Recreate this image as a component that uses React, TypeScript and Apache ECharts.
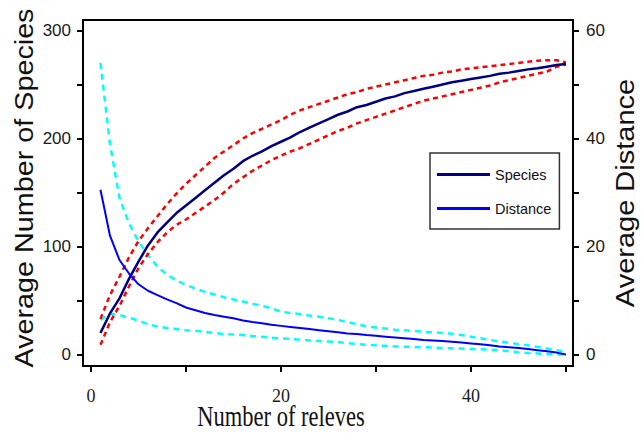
import React, { useEffect, useRef } from "react";
import * as echarts from "echarts";

const releves = [1, 2, 3, 4, 5, 6, 7, 8, 9, 10, 11, 12, 13, 14, 15, 16, 17, 18, 19, 20, 21, 22, 23, 24, 25, 26, 27, 28, 29, 30, 31, 32, 33, 34, 35, 36, 37, 38, 39, 40, 41, 42, 43, 44, 45, 46, 47, 48, 49, 50];

const speciesMean = [20, 38, 52, 70, 86, 101, 113, 122, 131, 138, 145, 152, 159, 166, 172, 179, 184, 188, 193, 197, 201, 206, 210, 214, 218, 222, 225, 229, 231, 234, 237, 239, 242, 244, 246, 248, 250, 252, 253.5, 255, 256.5, 258, 260, 261, 262.5, 264, 265, 266.5, 268, 269];
const speciesUpper = [33, 55, 72, 90, 105, 117, 128, 139, 149, 158, 166, 174, 182, 188, 194, 200, 205, 209, 213, 217, 222, 226, 229, 232, 235, 238, 241, 243, 246, 248, 250, 252, 254, 256, 258, 259, 261, 262, 264, 265, 266, 267, 268, 269, 270, 271, 272, 272.5, 272.5, 270.5];
const speciesLower = [9, 30, 45, 63, 80, 93, 104, 113, 120, 125, 131, 137, 143, 150, 158, 164, 170, 175, 180, 184, 188, 191, 195, 199, 203, 207, 210, 214, 217, 220, 223, 226, 229, 232, 235, 237, 239, 241, 243, 245, 247, 249, 252, 254, 256, 258, 260, 262, 266.5, 268.5];

const distanceMean = [30.5, 22, 17.5, 15, 13, 11.8, 11, 10.2, 9.5, 8.7, 8.2, 7.7, 7.3, 7.0, 6.7, 6.3, 6.0, 5.8, 5.5, 5.3, 5.1, 4.9, 4.7, 4.5, 4.3, 4.1, 3.9, 3.8, 3.6, 3.45, 3.3, 3.15, 3.0, 2.85, 2.7, 2.6, 2.5, 2.35, 2.2, 2.05, 1.9, 1.7, 1.5, 1.35, 1.2, 1.0, 0.8, 0.6, 0.35, 0];
const distanceUpper = [54, 39, 29, 24.3, 21, 18.4, 16.3, 14.8, 13.7, 12.9, 12.2, 11.6, 11.1, 10.6, 10.2, 9.8, 9.4, 9.0, 8.6, 7.9, 7.7, 7.5, 7.2, 7.0, 6.7, 6.4, 6.0, 5.6, 5.2, 5.0, 4.8, 4.6, 4.5, 4.35, 4.2, 4.1, 4.0, 3.85, 3.6, 3.3, 3.0, 2.7, 2.4, 2.2, 1.9, 1.7, 1.4, 1.1, 0.8, 0.4];
const distanceLower = [6.4, 7.6, 7.3, 6.8, 6.3, 5.6, 5.2, 4.9, 4.7, 4.5, 4.4, 4.2, 4.0, 3.8, 3.7, 3.6, 3.4, 3.3, 3.1, 3.0, 2.9, 2.75, 2.6, 2.5, 2.4, 2.3, 2.1, 1.95, 1.8, 1.7, 1.6, 1.5, 1.45, 1.4, 1.35, 1.3, 1.2, 1.15, 1.1, 1.0, 0.95, 0.9, 0.8, 0.6, 0.4, 0.3, 0.2, 0.1, 0, 0];

const leftTicks = [0, 50, 100, 150, 200, 250, 300];
const leftLabels = [0, 100, 200, 300];
const rightTicks = [0, 10, 20, 30, 40, 50, 60];
const rightLabels = [0, 20, 40, 60];
const xTicks = [0, 10, 20, 30, 40, 50];
const xLabels = [0, 20, 40];

const pair = (ys: number[]) => releves.map((x, i) => [x, ys[i]]);

const SANS = "'Liberation Sans', Arial, sans-serif";
const SERIF = "'Liberation Serif', 'Times New Roman', serif";

export default function App() {
  const ref = useRef<HTMLDivElement>(null);
  useEffect(() => {
    if (!ref.current) return;
    const chart = echarts.init(ref.current, undefined, { renderer: "svg" });
    const axisLine = { show: true, onZero: false, lineStyle: { color: "#000", width: 2 } };
    const tickStyle = { color: "#000", width: 2 };
    chart.setOption({
      animation: false,
      backgroundColor: "#fff",
      grid: {
        left: 83,
        right: 71,
        top: 20,
        bottom: 69,
        show: true,
        borderColor: "#000",
        borderWidth: 2,
        containLabel: false,
      },
      legend: {
        data: ["Species", "Distance"],
        orient: "vertical",
        left: 430,
        top: 153,
        padding: [14, 8, 13, 7],
        itemGap: 19,
        itemWidth: 53,
        itemHeight: 3,
        icon: "rect",
        borderColor: "#333",
        borderWidth: 1.5,
        backgroundColor: "#fff",
        textStyle: { fontFamily: SANS, fontSize: 14.5, color: "#111" },
      },
      xAxis: {
        type: "value",
        min: -0.84,
        max: 50.74,
        splitLine: { show: false },
        axisLine,
        axisTick: { show: true, length: 6, lineStyle: tickStyle, customValues: xTicks },
        axisLabel: { customValues: xLabels, margin: 21, fontFamily: SERIF, fontSize: 18, color: "#1a1a1a" },
      },
      yAxis: [
        {
          type: "value",
          position: "left",
          min: -10.65,
          max: 309.72,
          splitLine: { show: false },
          axisLine,
          axisTick: { show: true, length: 6, lineStyle: tickStyle, customValues: leftTicks },
          axisLabel: { customValues: leftLabels, margin: 12, fontFamily: SANS, fontSize: 17, color: "#1a1a1a" },
        },
        {
          type: "value",
          position: "right",
          min: -2.13,
          max: 61.94,
          splitLine: { show: false },
          axisLine,
          axisTick: { show: true, length: 6, lineStyle: tickStyle, customValues: rightTicks },
          axisLabel: { customValues: rightLabels, margin: 13, fontFamily: SANS, fontSize: 17, color: "#1a1a1a" },
        },
      ],
      series: [
        {
          name: "Distance upper",
          type: "line",
          yAxisIndex: 1,
          data: pair(distanceUpper),
          symbol: "none",
          lineStyle: { color: "#00ffff", width: 2.5, type: [6, 5], cap: "butt" },
        },
        {
          name: "Distance lower",
          type: "line",
          yAxisIndex: 1,
          data: pair(distanceLower),
          symbol: "none",
          lineStyle: { color: "#00ffff", width: 2.5, type: [6, 5], cap: "butt" },
        },
        {
          name: "Species upper",
          type: "line",
          yAxisIndex: 0,
          data: pair(speciesUpper),
          symbol: "none",
          lineStyle: { color: "#ff0000", width: 2.5, type: [5, 4], cap: "butt" },
        },
        {
          name: "Species lower",
          type: "line",
          yAxisIndex: 0,
          data: pair(speciesLower),
          symbol: "none",
          lineStyle: { color: "#ff0000", width: 2.5, type: [5, 4], cap: "butt" },
        },
        {
          name: "Species",
          type: "line",
          yAxisIndex: 0,
          data: pair(speciesMean),
          symbol: "none",
          color: "#000080",
          lineStyle: { color: "#000080", width: 2.5 },
        },
        {
          name: "Distance",
          type: "line",
          yAxisIndex: 1,
          data: pair(distanceMean),
          symbol: "none",
          color: "#0000ff",
          lineStyle: { color: "#0000ff", width: 2 },
        },
      ],
      graphic: [
        {
          type: "text",
          x: 25,
          y: 188,
          rotation: Math.PI / 2,
          scaleX: 1.15,
          style: {
            text: "Average Number of Species",
            fontFamily: SANS,
            fontSize: 25,
            fill: "#111",
            textAlign: "center",
            textVerticalAlign: "middle",
          },
        },
        {
          type: "text",
          x: 625,
          y: 193,
          rotation: Math.PI / 2,
          scaleX: 1.16,
          style: {
            text: "Average Distance",
            fontFamily: SANS,
            fontSize: 25,
            fill: "#111",
            textAlign: "center",
            textVerticalAlign: "middle",
          },
        },
        {
          type: "text",
          x: 281,
          y: 417,
          scaleY: 1.27,
          style: {
            text: "Number of releves",
            fontFamily: SERIF,
            fontSize: 22.5,
            fill: "#111",
            textAlign: "center",
            textVerticalAlign: "middle",
          },
        },
      ],
    });
    return () => chart.dispose();
  }, []);
  return (
    <div
      ref={ref}
      style={{ position: "absolute", left: 0, top: 0, width: 644, height: 435 }}
    />
  );
}
